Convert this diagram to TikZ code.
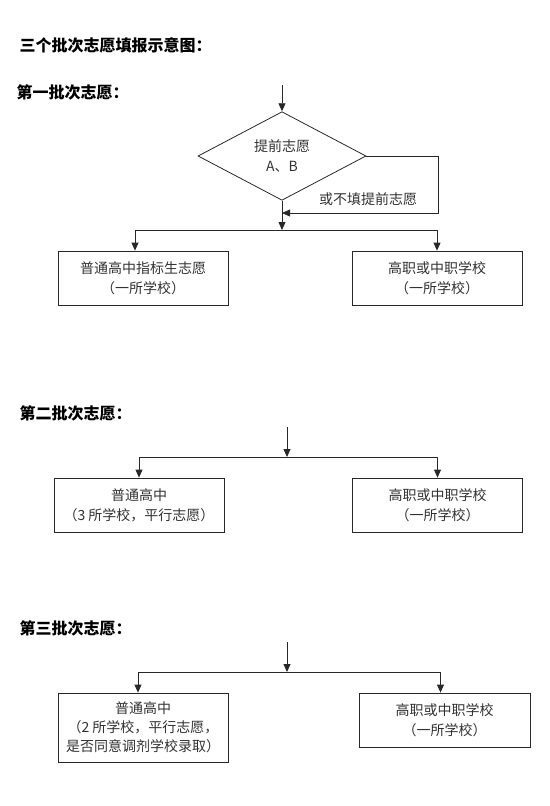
\documentclass[tikz,border=0pt]{standalone}
\usepackage{fontspec}
\setmainfont{Noto Sans CJK SC}
\usepackage{xcolor}
\usepackage{tikz}
\usetikzlibrary{arrows.meta,shapes.geometric}
\definecolor{lineaGris}{RGB}{40,40,40}
\definecolor{textoGris}{RGB}{50,50,50}
\tikzset{
  caja/.style={draw=lineaGris, line width=0.8pt, align=center, text=textoGris,
    minimum width=170pt, minimum height=54pt, inner sep=0pt,
    font=\fontsize{14}{20}\selectfont},
  titulo/.style={anchor=west, font=\fontsize{16}{18}\selectfont\bfseries},
  flecha/.style={draw=lineaGris, line width=0.8pt,
    -{Triangle[length=8pt,width=7pt]}},
  linea/.style={draw=lineaGris, line width=0.8pt}
}

\begin{document}
\begin{tikzpicture}[x=1pt,y=-1pt]
  \useasboundingbox (0,0) rectangle (549,806);
  % Headings
  \node[titulo] (tit) at (16,45) {三个批次志愿填报示意图：};
  \node[titulo] (lot1) at (13,92) {第一批次志愿：};
  \node[titulo] (lot2) at (16,413) {第二批次志愿：};
  \node[titulo] (lot3) at (16,628) {第三批次志愿：};
  % First batch
  \coordinate (in1) at (282,85);
  \node[diamond, draw=lineaGris, line width=0.8pt, minimum width=168pt,
    minimum height=86pt, inner sep=0pt, align=center, text=textoGris,
    font=\fontsize{14}{20}\selectfont] (prev) at (282,156)
    {提前志愿\\A、B};
  \coordinate (der1) at (438,213);
  \coordinate (une1) at (282,213);
  \coordinate (ram1) at (282,230);
  \node[caja] (gen1) at (143,278) {普通高中指标生志愿\\（一所学校）};
  \node[caja] (voc1) at (437,278) {高职或中职学校\\（一所学校）};
  \node[text=textoGris, font=\fontsize{14}{16}\selectfont] (omit) at (368,199)
    {或不填提前志愿};
  \draw[flecha] (in1) -- (prev);
  \draw[flecha] (prev.east) -| (der1) -- (une1);
  \draw[flecha] (prev.south) -- (ram1);
  \draw[flecha] (ram1) -| ([xshift=-8pt]gen1.north);
  \draw[flecha] (ram1) -| (voc1.north);
  % Second batch
  \coordinate (in2) at (287,427);
  \coordinate (ram2) at (287,457);
  \node[caja] (gen2) at (139,505) {普通高中\\（3 所学校，平行志愿）};
  \node[caja] (voc2) at (437.5,505) {高职或中职学校\\（一所学校）};
  \draw[flecha] (in2) -- (ram2);
  \draw[flecha] (ram2) -| (gen2.north);
  \draw[flecha] (ram2) -| (voc2.north);
  % Third batch
  \coordinate (in3) at (287,642);
  \coordinate (ram3) at (287,672);
  \node[caja, minimum height=69pt, font=\fontsize{14}{19}\selectfont]
    (gen3) at (143,727.5)
    {普通高中\\（2 所学校，平行志愿，\\是否同意调剂学校录取）};
  \node[caja, minimum width=171pt] (voc3) at (444.5,720)
    {高职或中职学校\\（一所学校）};
  \draw[flecha] (in3) -- (ram3);
  \draw[flecha] (ram3) -| ([xshift=-5pt]gen3.north);
  \draw[flecha] (ram3) -| ([xshift=-4pt]voc3.north);
\end{tikzpicture}
\end{document}
